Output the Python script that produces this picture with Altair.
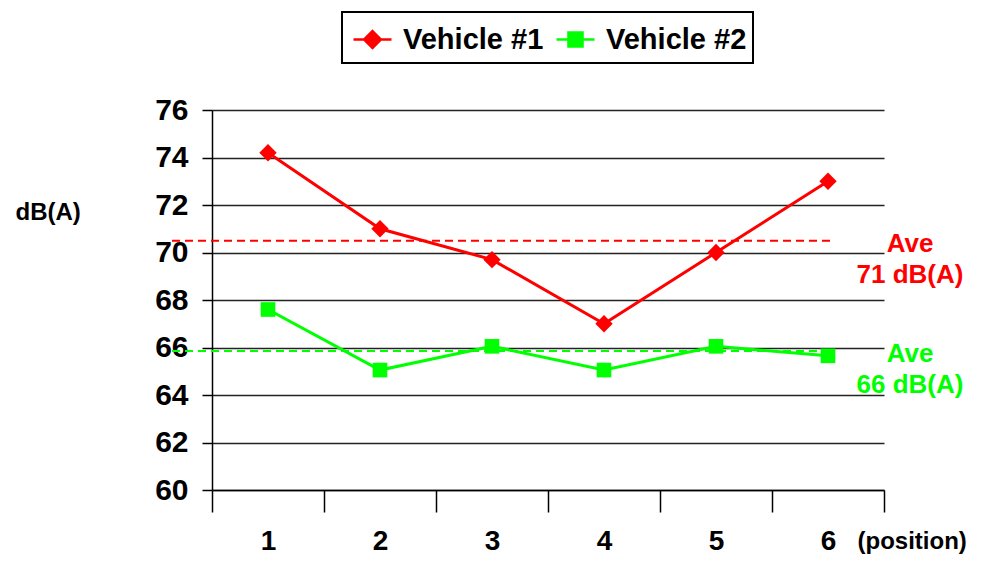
import altair as alt
import pandas as pd

positions = [1, 2, 3, 4, 5, 6]
vehicle1 = [74.2, 71.0, 69.7, 67.0, 70.0, 73.0]
vehicle2 = [67.6, 65.05, 66.05, 65.05, 66.05, 65.65]
series_names = ["Vehicle #1", "Vehicle #2"]
series_colors = ["#ff0000", "#00ff00"]
averages = [70.5, 65.85]
avg_labels = [["Ave", "71 dB(A)"], ["Ave", "66 dB(A)"]]
y_ticks = [60, 62, 64, 66, 68, 70, 72, 74, 76]

FONT = "Liberation Sans"

df = pd.DataFrame({
    "position": positions * 2,
    "dB": vehicle1 + vehicle2,
    "series": [series_names[0]] * len(positions) + [series_names[1]] * len(positions),
})
avg_df = pd.DataFrame({"series": series_names, "avg": averages, "label": avg_labels})

PATH_DIAMOND = "M-1,0L1,0M0,-0.44L0.44,0L0,0.44L-0.44,0Z"
PATH_SQUARE = "M-1,0L1,0M-0.37,-0.37L0.37,-0.37L0.37,0.37L-0.37,0.37Z"

legend_common = dict(
    orient="none", direction="horizontal", title=None, padding=0,
    labelFont=FONT, labelFontSize=29, labelFontWeight="bold", labelColor="black",
    symbolSize=1444, symbolStrokeWidth=2.5, labelOffset=10,
)
legend1 = alt.Legend(legendX=140, legendY=-91, symbolType=PATH_DIAMOND,
                     symbolStrokeColor=series_colors[0], symbolFillColor=series_colors[0], **legend_common)
legend2 = alt.Legend(legendX=343, legendY=-91, symbolType=PATH_SQUARE,
                     symbolStrokeColor=series_colors[1], symbolFillColor=series_colors[1], **legend_common)

color_scale = alt.Scale(domain=series_names, range=series_colors)

x = alt.X(
    "position:O",
    scale=alt.Scale(type="band", paddingInner=0, paddingOuter=0),
    axis=alt.Axis(
        title="(position)", tickBand="extent", labelAngle=0, grid=False,
        domainColor="black", domainWidth=1.5, tickColor="black", tickWidth=1.5, tickSize=22,
        labelFont=FONT, labelFontSize=28, labelFontWeight="bold", labelColor="black", labelPadding=15,
        titleFont=FONT, titleFontSize=24, titleFontWeight="bold", titleColor="black",
        titleX=645, titleY=58, titleAlign="left", titleBaseline="alphabetic", titleAnchor="start",
    ),
)
y = alt.Y(
    "dB:Q",
    scale=alt.Scale(domain=[60, 76], nice=False, zero=False),
    axis=alt.Axis(
        values=y_ticks, title="dB(A)", grid=True, gridColor="#222222", gridWidth=1.5,
        domainColor="black", domainWidth=1.5, tickColor="black", tickWidth=1.5, tickSize=10,
        labelFont=FONT, labelFontSize=30, labelFontWeight="bold", labelColor="black", labelPadding=14,
        titleFont=FONT, titleFontSize=24, titleFontWeight="bold", titleColor="black",
        titleAngle=0, titleX=-197, titleY=102, titleAlign="left", titleBaseline="middle",
    ),
)

color_nolegend = alt.Color("series:N", scale=color_scale, legend=None)

lines = alt.Chart(df).mark_line(strokeWidth=3).encode(x=x, y=y, color=color_nolegend)
pts1 = alt.Chart(df).transform_filter(alt.datum.series == series_names[0]).mark_point(
    filled=True, opacity=1, shape="diamond", size=300
).encode(x=x, y=y, color=color_nolegend)
pts2 = alt.Chart(df).transform_filter(alt.datum.series == series_names[1]).mark_point(
    filled=True, opacity=1, shape="square", size=215
).encode(x=x, y=y, color=color_nolegend)

legend_box = alt.Chart(avg_df).mark_rect(fill="white", stroke="black", strokeWidth=2).encode(
    x=alt.value(130), x2=alt.value(541), y=alt.value(-98), y2=alt.value(-47),
)
leg1 = alt.Chart(avg_df).transform_filter(alt.datum.series == series_names[0]).mark_point(
    filled=True, opacity=1, size=1444, fill=series_colors[0]
).encode(
    x=alt.value(-3000), y=alt.value(-3000),
    fill=alt.Fill("series:N", scale=alt.Scale(domain=[series_names[0]], range=[series_colors[0]]), legend=legend1),
)
leg2 = alt.Chart(avg_df).transform_filter(alt.datum.series == series_names[1]).mark_point(
    filled=True, opacity=1, size=1444, fill=series_colors[1]
).encode(
    x=alt.value(-3000), y=alt.value(-3000),
    stroke=alt.Stroke("series:N", scale=alt.Scale(domain=[series_names[1]], range=[series_colors[1]]), legend=legend2),
)
rules = alt.Chart(avg_df).mark_rule(strokeWidth=2, strokeDash=[8, 5]).encode(
    x=alt.value(-40), x2=alt.value(623), y=alt.Y("avg:Q"), color=color_nolegend,
)
texts = alt.Chart(avg_df).mark_text(
    font=FONT, fontSize=26, fontWeight="bold", align="center", baseline="top", dy=-10, lineHeight=31,
).encode(x=alt.value(698), y=alt.Y("avg:Q"), text="label", color=color_nolegend)

chart = alt.layer(legend_box, rules, lines, pts1, pts2, texts, leg1, leg2).properties(
    width=672, height=380,
    autosize=alt.AutoSizeParams(type="none"),
    padding={"left": 204, "top": 102, "right": 96, "bottom": 65},
    background="white",
).configure_view(stroke=None)

chart.save("out.html", embed_options={"renderer": "svg", "actions": False})
